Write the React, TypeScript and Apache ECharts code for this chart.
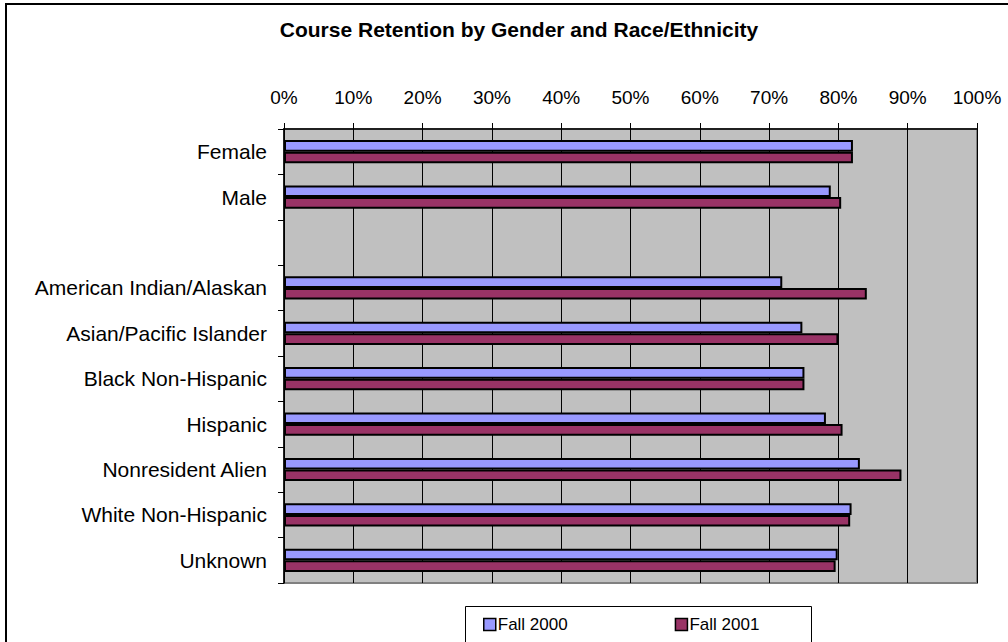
import React, { useEffect, useRef } from "react";
import * as echarts from "echarts";

const title = "Course Retention by Gender and Race/Ethnicity";
const categories = [
  "Female",
  "Male",
  "",
  "American Indian/Alaskan",
  "Asian/Pacific Islander",
  "Black Non-Hispanic",
  "Hispanic",
  "Nonresident Alien",
  "White Non-Hispanic",
  "Unknown",
];
const seriesNames = ["Fall 2000", "Fall 2001"];
const fall2000 = [0.821, 0.789, null, 0.719, 0.748, 0.751, 0.782, 0.831, 0.819, 0.799];
const fall2001 = [0.821, 0.804, null, 0.841, 0.8, 0.751, 0.806, 0.891, 0.817, 0.796];
const colors = ["#9999FF", "#993366"];

const FONT = "'Liberation Sans', Arial, sans-serif";

export default function App() {
  const ref = useRef<HTMLDivElement>(null);
  useEffect(() => {
    if (!ref.current) return;
    const chart = echarts.init(ref.current, undefined, { renderer: "svg" });
    const barStyle = (c: string) => ({ color: c, borderColor: "#000", borderWidth: 2 });
    chart.setOption({
      animation: false,
      backgroundColor: "#fff",
      textStyle: { fontFamily: FONT, color: "#000" },
      title: {
        text: title,
        left: 514,
        top: 14,
        textAlign: "center",
        textStyle: { fontFamily: FONT, fontSize: 21, fontWeight: "bold", color: "#000" },
      },
      graphic: [
        {
          type: "rect",
          shape: { x: 6, y: 4, width: 1010, height: 650 },
          style: { fill: "none", stroke: "#000", lineWidth: 2 },
          z: 0,
        },
        {
          type: "rect",
          shape: { x: 465.5, y: 606.5, width: 346, height: 50 },
          style: { fill: "#fff", stroke: "#000", lineWidth: 1 },
          z: 0,
        },
      ],
      legend: {
        left: 483,
        top: 616,
        padding: 0,
        itemWidth: 12,
        itemHeight: 12,
        itemGap: 107,
        icon: "rect",
        itemStyle: { borderColor: "#000", borderWidth: 1.5 },
        textStyle: { fontFamily: FONT, fontSize: 17, color: "#000", padding: [0, 0, 0, -3] },
        data: seriesNames,
        z: 5,
      },
      grid: {
        left: 284,
        right: 31,
        top: 129,
        bottom: 59,
        show: true,
        backgroundColor: "#C0C0C0",
        borderColor: "#808080",
        borderWidth: 2,
      },
      xAxis: {
        type: "value",
        position: "top",
        min: 0,
        max: 1,
        interval: 0.1,
        axisLine: { show: true, lineStyle: { color: "#000", width: 1.5 } },
        axisTick: { show: true, length: 6, lineStyle: { color: "#000" } },
        splitLine: { show: true, lineStyle: { color: "#000", width: 1 } },
        axisLabel: {
          margin: 22,
          fontFamily: FONT,
          fontSize: 19,
          color: "#000",
          formatter: (v: number) => Math.round(v * 100) + "%",
        },
      },
      yAxis: {
        type: "category",
        inverse: true,
        data: categories,
        axisLine: { show: true, lineStyle: { color: "#000", width: 1.5 } },
        axisTick: { show: true, length: 6, lineStyle: { color: "#000" } },
        splitLine: { show: false },
        axisLabel: { margin: 17, fontFamily: FONT, fontSize: 21, color: "#000" },
      },
      series: [
        {
          name: seriesNames[0],
          type: "bar",
          data: fall2000,
          barGap: "0%",
          barCategoryGap: "49%",
          itemStyle: barStyle(colors[0]),
        },
        {
          name: seriesNames[1],
          type: "bar",
          data: fall2001,
          barGap: "0%",
          barCategoryGap: "49%",
          itemStyle: barStyle(colors[1]),
        },
      ],
    });
    return () => chart.dispose();
  }, []);
  return (
    <div
      ref={ref}
      style={{ position: "absolute", left: 0, top: 0, width: 1008, height: 642 }}
    />
  );
}
